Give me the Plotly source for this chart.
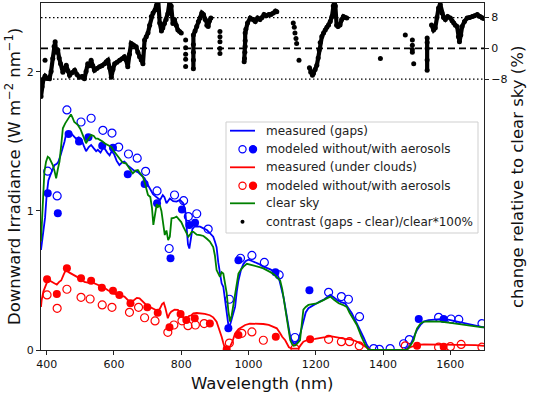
import plotly.graph_objects as go

# ---------------- data ----------------
gaps_nm = [383, 390, 395, 400, 405, 411, 417, 423, 430, 435, 441, 448, 453, 457, 465, 472, 480, 487, 495, 502,
           510, 517, 525, 532, 540, 547, 552, 560, 567, 572, 580, 587, 593, 600, 608, 616, 624, 631, 640, 651,
           660, 671, 680, 691, 700, 706, 716, 726, 737, 745, 750, 756, 766, 776, 786, 796, 806, 812, 816, 820,
           824, 828, 833, 840, 848, 856, 866, 876, 885, 895, 900, 905, 910, 915, 920, 925, 930, 935, 940, 945,
           950, 955, 960, 965, 970, 978, 985, 992, 1000, 1010, 1020, 1030, 1044, 1055, 1065, 1075, 1084, 1090,
           1094, 1100, 1104, 1109, 1115, 1120, 1124, 1130, 1134, 1140, 1148, 1155, 1163, 1170, 1178, 1190, 1203,
           1213, 1223, 1233, 1243, 1253, 1263, 1275, 1287, 1297, 1307, 1320, 1332, 1342, 1352, 1362, 1380, 1400,
           1420, 1440, 1461, 1471, 1481, 1491, 1501, 1511, 1521, 1535, 1550, 1570, 1590, 1610, 1630, 1650, 1670,
           1690, 1700]
gaps_val = [0.72, 0.85, 0.95, 1.12, 1.22, 1.26, 1.30, 1.33, 1.34, 1.355, 1.40, 1.45, 1.50, 1.547, 1.56, 1.56, 1.54,
            1.52, 1.53, 1.52, 1.47, 1.43, 1.46, 1.475, 1.45, 1.43, 1.44, 1.42, 1.45, 1.45, 1.42, 1.40, 1.43, 1.41,
            1.36, 1.33, 1.35, 1.355, 1.33, 1.31, 1.29, 1.28, 1.26, 1.235, 1.19, 1.16, 1.12, 1.10, 1.08, 1.115, 1.10,
            1.055, 1.09, 1.07, 1.067, 1.08, 1.055, 1.0, 0.887, 0.76, 0.73, 0.80, 0.87, 0.89, 0.89, 0.887, 0.875,
            0.863, 0.84, 0.815, 0.78, 0.74, 0.63, 0.54, 0.48, 0.455, 0.35, 0.25, 0.18, 0.18, 0.22, 0.27, 0.31, 0.42,
            0.50, 0.58, 0.62, 0.64, 0.65, 0.64, 0.63, 0.62, 0.60, 0.59, 0.58, 0.565, 0.55, 0.52, 0.48, 0.43, 0.38,
            0.31, 0.22, 0.14, 0.096, 0.06, 0.05, 0.05, 0.07, 0.13, 0.216, 0.27, 0.30, 0.32, 0.336, 0.35, 0.36, 0.38,
            0.396, 0.38, 0.36, 0.345, 0.336, 0.30, 0.264, 0.20, 0.144, 0.09, 0.036, 0.0, 0.0, 0.0, 0.0, 0.0, 0.0,
            0.015, 0.036, 0.09, 0.144, 0.18, 0.204, 0.215, 0.22, 0.222, 0.22, 0.21, 0.20, 0.19, 0.18, 0.167, 0.163]

clear_nm = [383, 388, 393, 398, 403, 408, 413, 418, 423, 428, 433, 438, 443, 448, 455, 462, 467, 472, 477, 482,
            487, 492, 500, 507, 512, 517, 524, 532, 540, 546, 552, 560, 566, 572, 580, 586, 592, 600, 606, 611,
            618, 625, 630, 636, 645, 650, 656, 664, 671, 678, 686, 692, 697, 701, 708, 713, 717, 722, 727, 731,
            736, 741, 745, 751, 756, 761, 766, 771, 778, 786, 793, 800, 806, 812, 816, 821, 826, 831, 836, 846,
            856, 866, 876, 885, 895, 900, 905, 910, 915, 920, 925, 930, 935, 940, 945, 950, 955, 960, 965, 970,
            978, 985, 995, 1005, 1015, 1025, 1035, 1044, 1055, 1065, 1075, 1084, 1089, 1094, 1100, 1105, 1110,
            1115, 1120, 1124, 1130, 1134, 1140, 1147, 1153, 1158, 1163, 1170, 1178, 1190, 1203, 1215, 1230, 1243,
            1255, 1268, 1280, 1292, 1300, 1310, 1322, 1335, 1347, 1357, 1400, 1440, 1471, 1481, 1491, 1496, 1501,
            1511, 1521, 1540, 1570, 1600, 1620, 1640, 1660, 1680, 1700]
clear_val = [0.78, 1.05, 1.28, 1.355, 1.39, 1.38, 1.36, 1.33, 1.29, 1.235, 1.30, 1.355, 1.47, 1.595, 1.63, 1.655,
             1.68, 1.695, 1.67, 1.64, 1.63, 1.62, 1.59, 1.547, 1.51, 1.487, 1.52, 1.547, 1.54, 1.52, 1.52, 1.51,
             1.50, 1.487, 1.475, 1.465, 1.46, 1.43, 1.41, 1.39, 1.37, 1.35, 1.345, 1.343, 1.31, 1.29, 1.27, 1.29,
             1.295, 1.27, 1.247, 1.20, 1.15, 1.115, 1.10, 1.02, 0.90, 0.98, 1.05, 1.03, 1.043, 1.0, 0.92, 0.827,
             0.86, 0.79, 0.815, 0.947, 0.95, 0.96, 0.94, 0.92, 0.887, 0.86, 0.84, 0.815, 0.83, 0.85, 0.85, 0.83,
             0.827, 0.82, 0.80, 0.78, 0.74, 0.68, 0.575, 0.55, 0.527, 0.56, 0.55, 0.48, 0.41, 0.28, 0.204, 0.25,
             0.33, 0.42, 0.50, 0.55, 0.58, 0.60, 0.62, 0.615, 0.61, 0.60, 0.595, 0.587, 0.575, 0.56, 0.545, 0.525,
             0.516, 0.50, 0.44, 0.36, 0.27, 0.18, 0.11, 0.07, 0.04, 0.03, 0.035, 0.05, 0.07, 0.18, 0.29, 0.31,
             0.324, 0.33, 0.336, 0.35, 0.37, 0.384, 0.36, 0.336, 0.325, 0.31, 0.27, 0.23, 0.18, 0.10, 0.036, 0.0,
             0.0, 0.0, 0.0, 0.03, 0.07, 0.12, 0.156, 0.19, 0.204, 0.205, 0.204, 0.195, 0.187, 0.18, 0.175, 0.168,
             0.163]

clouds_nm = [383, 385, 390, 398, 403, 408, 415, 423, 430, 437, 443, 450, 457, 465, 472, 480, 492, 502, 512, 522,
             532, 545, 557, 570, 582, 596, 611, 621, 631, 641, 651, 660, 668, 676, 686, 696, 706, 716, 723, 730,
             737, 743, 748, 753, 757, 760, 765, 770, 780, 790, 800, 810, 816, 823, 830, 836, 846, 856, 870, 885,
             895, 905, 912, 920, 925, 930, 937, 945, 952, 960, 970, 980, 990, 1004, 1020, 1035, 1044, 1060, 1075,
             1084, 1094, 1100, 1109, 1114, 1120, 1129, 1140, 1148, 1155, 1163, 1173, 1183, 1198, 1213, 1228, 1243,
             1258, 1273, 1288, 1303, 1318, 1332, 1342, 1352, 1362, 1400, 1440, 1466, 1481, 1491, 1501, 1521, 1541,
             1570, 1600, 1630, 1650, 1675, 1700]
clouds_val = [0.31, 0.36, 0.42, 0.48, 0.50, 0.50, 0.49, 0.48, 0.47, 0.49, 0.50, 0.54, 0.576, 0.56, 0.55, 0.54, 0.527,
              0.51, 0.49, 0.485, 0.49, 0.475, 0.467, 0.45, 0.43, 0.41, 0.396, 0.39, 0.384, 0.36, 0.347, 0.36, 0.375,
              0.372, 0.345, 0.324, 0.31, 0.30, 0.29, 0.276, 0.30, 0.33, 0.34, 0.30, 0.25, 0.228, 0.26, 0.276, 0.29,
              0.288, 0.26, 0.216, 0.22, 0.245, 0.25, 0.264, 0.266, 0.264, 0.26, 0.25, 0.235, 0.204, 0.16, 0.096,
              0.05, 0.01, 0.015, 0.024, 0.06, 0.12, 0.15, 0.168, 0.18, 0.19, 0.19, 0.19, 0.187, 0.18, 0.168, 0.156,
              0.12, 0.095, 0.07, 0.05, 0.02, 0.01, 0.008, 0.01, 0.035, 0.06, 0.07, 0.077, 0.08, 0.084, 0.092, 0.10,
              0.092, 0.084, 0.08, 0.077, 0.065, 0.048, 0.03, 0.012, 0.0, 0.0, 0.0, 0.0, 0.02, 0.03, 0.036, 0.04,
              0.04, 0.038, 0.036, 0.038, 0.04, 0.035, 0.03]

gaps_noaer_nm = [403, 431, 460, 502, 532, 567, 594, 614, 643, 669, 694, 728, 764, 780, 807, 821, 846, 880, 943, 976,
                 1010, 1047, 1091, 1138, 1238, 1276, 1297, 1330, 1372, 1389, 1421, 1461, 1478, 1565, 1602, 1625, 1694]
gaps_noaer_val = [1.286, 1.108, 1.727, 1.64, 1.667, 1.58, 1.56, 1.46, 1.41, 1.38, 1.285, 1.144, 0.73, 1.115, 1.074,
                  0.96, 0.98, 0.87, 0.365, 0.66, 0.68, 0.63, 0.54, 0.09, 0.415, 0.384, 0.365, 0.24, 0.01, 0.005, 0.01,
                  0.045, 0.075, 0.235, 0.223, 0.22, 0.19]

gaps_aer_nm = [403, 433, 465, 496, 524, 565, 597, 641, 691, 728, 768, 802, 824, 841, 940, 970, 1080, 1181, 1506, 1580]
gaps_aer_val = [1.127, 0.983, 1.554, 1.50, 1.53, 1.47, 1.455, 1.264, 1.194, 1.055, 0.66, 1.01, 0.90, 0.916, 0.156,
                0.645, 0.56, 0.43, 0.223, 0.223]

clouds_noaer_nm = [401, 431, 460, 502, 529, 565, 594, 646, 673, 691, 722, 760, 778, 802, 820, 842, 868, 943, 980, 1010,
                   1044, 1138, 1238, 1276, 1300, 1329, 1466, 1565, 1600, 1632, 1694]
clouds_noaer_val = [0.396, 0.30, 0.437, 0.379, 0.367, 0.324, 0.307, 0.271, 0.307, 0.232, 0.209, 0.127, 0.18, 0.21,
                    0.175, 0.18, 0.19, 0.05, 0.12, 0.13, 0.07, 0.01, 0.077, 0.06, 0.06, 0.03, 0.03, 0.02, 0.024, 0.04,
                    0.02]

clouds_aer_nm = [401, 430, 460, 502, 532, 564, 597, 616, 649, 699, 730, 765, 798, 815, 840, 885, 935, 970, 1081, 1183,
                 1501, 1580]
clouds_aer_val = [0.509, 0.403, 0.588, 0.516, 0.499, 0.448, 0.427, 0.396, 0.336, 0.307, 0.268, 0.163, 0.259, 0.216,
                  0.228, 0.19, 0.005, 0.108, 0.096, 0.077, 0.03, 0.024]

# contrast (gaps - clear)/clear*100 ; None separates continuous stretches from isolated dots
contrast_nm = [383, 386, 390, 395, 401, 408, 413, 418, 422, 425, 428, 433, 437, 441, 448, 452, 458, 463, 468, 475,
               483, 490, 497, 505, 512, 517, 522, 527, 532, 537, 542, 549, 557, 564, 572, 577, 582, 587, 592, 597,
               602, 609, 617, 624, 631, 636, 641, 646, 651, 658, 666, 671, 676, 681, 686, 691, 696, 701, 706, 711,
               716, 722, 726, 731, 736, 741, 745, 750, 755, 760, 765, 770, 775, 780, 785, 790, 795, 800, None,
               395, None, 813, None, 813, None, 813, None, 813, None, 813, None,
               836, 836, 836, 836, 836, 841, 846, 851, 856, 861, 866, 871, 876, 880, 884, 888, None,
               915, None, 915, None, 915, None, 915, None, 915, None,
               987, 988, 989, 990, 990, 990, 992, 997, 1005, 1014, 1020, 1027, 1034, 1040, 1046, 1053, 1060, 1067,
               1074, 1080, 1084, None,
               1133, None, 1136, None, 1138, None, 1141, None, 1143, None, 1150, None,
               1181, 1185, 1190, 1193, 1198, 1203, 1207, 1210, 1213, 1218, 1223, 1228, 1233, 1238, 1243, 1248, 1252,
               1255, 1258, 1262, 1266, 1272, 1277, 1282, 1287, 1292, None,
               1392, None, 1466, None, 1487, None, 1487, None, 1487, None, 1487, None, 1491, None,
               1531, 1531, 1531, 1531, 1531, None,
               1544, 1550, 1555, 1560, 1565, 1570, 1575, 1580, 1585, 1592, 1600, 1605, 1610, 1615, 1620, 1624, 1627,
               1631, 1635, 1642, 1650, 1657, 1665, 1672, 1680, 1688, 1695, 1700]
contrast_pct = [-12.5, -10, -8, -7.2, -7.8, -7.9, -6, -2.6, 0.5, 1.7, -1, -0.4, -2.5, -4.0, -6.2, -5.5, -4.4, -5.8,
                -7.0, -6.3, -5.7, -6.8, -7.5, -7.3, -7.9, -6, -4.0, -4.5, -3.1, -4.5, -5.7, -5.2, -4.8, -4.5, -4.0,
                -3.5, -3.1, -5, -7.5, -5.5, -4.0, -3.6, -3.1, -2.7, -2.2, -3, -4.8, -1.5, 1.3, 0.9, 0.4, -1, -2.2,
                -3, -4.0, 2.2, 3, 4.0, 6, 8.3, 9.2, 10, 11, 13, 6.6, 4.5, 5.3, 6.5, 7.5, 9, 12, 11, 6.5, 7.5, 6, 4.8,
                4.4, 4.0, None,
                -3.1, None, 2.2, None, 0.2, None, -1.5, None, -2.8, None, -4.7, None,
                -5.3, -3, -1, 1, 3.5, 4.5, 5.7, 7, 7.9, 9.2, 8.8, 7.5, 6, 5.7, 7.2, 7.9, None,
                4.4, None, 3.0, None, 1.7, None, 0, None, -1.3, None,
                -3.5, -2.6, -1, 0.5, 2, 4, 5, 6.6, 7.9, 7.5, 7, 7.9, 7.5, 8, 8.8, 8.5, 8.8, 8.8, 9.2, 9.7, 9.5, None,
                6.6, None, 5.5, None, 4.0, None, 2.6, None, 1.3, None, -3.1, None,
                -5.0, -6.2, -7.0, -6.5, -5.5, -4.4, -2.5, -0.4, 1.5, 3.1, 4, 4.8, 5.5, 6.1, 7, 8.3, 11, 12.5, 11, 6,
                5.7, 6.1, 7.5, 8.3, 8, 7.9, None,
                -2.6, None, 3.5, None, 2.2, None, 0.8, None, -0.3, None, -1.0, None, -4.0, None,
                -5.7, -3, 0, 1.5, 2.7, None,
                6.1, 4.8, 5.3, 8, 10.5, 11.4, 9.2, 8, 7.5, 8.3, 7.9, 7.2, 6.6, 6, 5.7, 3, 1.7, 3.5, 5.7, 7, 7.9, 8, 8.3,
                8.5, 8.8, 8.3, 7.9, 7.8]

x_ticks = [400, 600, 800, 1000, 1200, 1400, 1600]
y_ticks = [0, 1, 2]
y2_ticks = [-8, 0, 8]
y2_ticktext = ["\u22128", "0", "8"]
ref_levels = [-8, 0, 8]
legend_labels = ["measured (gaps)", "modeled without/with aerosols", "measured (under clouds)",
                 "modeled without/with aerosols", "clear sky", "contrast (gaps - clear)/clear*100%"]
x_title = "Wavelength (nm)"
y_title = "Downward Irradiance (W m<sup>\u22122</sup> nm<sup>\u22121</sup>)"
y2_title = "change relative to clear sky (%)"

# ---------------- figure ----------------
W, H = 533, 395
L, R, T, B = 41, 484, 3, 350
FONT = "DejaVu Sans"
BLUE, RED, GREEN = "#0000ff", "#ff0000", "#008000"
TXT = "#111111"

fig = go.Figure()
fig.add_trace(go.Scatter(x=gaps_nm, y=gaps_val, mode="lines", line=dict(color=BLUE, width=1.8)))
fig.add_trace(go.Scatter(x=gaps_noaer_nm, y=gaps_noaer_val, mode="markers",
                         marker=dict(symbol="circle-open", size=8, color=BLUE, line=dict(width=1.2))))
fig.add_trace(go.Scatter(x=gaps_aer_nm, y=gaps_aer_val, mode="markers",
                         marker=dict(symbol="circle", size=8, color=BLUE)))
fig.add_trace(go.Scatter(x=clouds_nm, y=clouds_val, mode="lines", line=dict(color=RED, width=1.8)))
fig.add_trace(go.Scatter(x=clouds_noaer_nm, y=clouds_noaer_val, mode="markers",
                         marker=dict(symbol="circle-open", size=8, color=RED, line=dict(width=1.2))))
fig.add_trace(go.Scatter(x=clouds_aer_nm, y=clouds_aer_val, mode="markers",
                         marker=dict(symbol="circle", size=8, color=RED)))
fig.add_trace(go.Scatter(x=clear_nm, y=clear_val, mode="lines", line=dict(color=GREEN, width=1.8)))
fig.add_trace(go.Scatter(x=contrast_nm, y=contrast_pct, yaxis="y2", mode="lines+markers", connectgaps=False,
                         line=dict(color="black", width=4.2), marker=dict(size=5, color="black")))

axis_common = dict(showline=True, linecolor="#222", linewidth=1.2, ticks="outside", ticklen=4, tickwidth=1,
                   tickcolor="#222", showgrid=False, zeroline=False,
                   tickfont=dict(family=FONT, size=11, color=TXT))
fig.update_layout(
    width=W, height=H, showlegend=False,
    margin=dict(l=L, r=W - R, t=T, b=H - B, autoexpand=False),
    paper_bgcolor="white", plot_bgcolor="white",
    xaxis=dict(range=[383, 1700], tickvals=x_ticks, mirror=True, **axis_common),
    yaxis=dict(range=[0, 2.496], tickvals=y_ticks, mirror=True, **axis_common),
    yaxis2=dict(range=[-78.4, 11.8], overlaying="y", side="right", tickvals=y2_ticks, ticktext=y2_ticktext,
                **axis_common),
)


def px(x):
    return (x - L) / (R - L)


def py(y):
    return (B - y) / (B - T)


# axis titles placed at the reference positions
fig.add_annotation(xref="paper", yref="paper", x=px(262), y=py(383), text=x_title, showarrow=False,
                   xanchor="center", yanchor="middle", font=dict(family=FONT, size=16.5, color=TXT))
fig.add_annotation(xref="paper", yref="paper", x=px(13), y=py(177), text=y_title, showarrow=False, textangle=-90,
                   xanchor="center", yanchor="middle", font=dict(family=FONT, size=16.5, color=TXT))
fig.add_annotation(xref="paper", yref="paper", x=px(517), y=py(177), text=y2_title, showarrow=False, textangle=-90,
                   xanchor="center", yanchor="middle", font=dict(family=FONT, size=16.5, color=TXT))

# reference lines on the contrast axis
for lv in ref_levels:
    fig.add_shape(type="line", xref="paper", x0=0, x1=1, yref="y2", y0=lv, y1=lv,
                  line=dict(color="black", width=1.6 if lv == 0 else 1.4,
                            dash="7px,4px" if lv == 0 else "1.5px,2.5px"), layer="below")

# ---------------- manual legend (pixel layout -> paper coordinates) ----------------
fig.add_shape(type="rect", xref="paper", yref="paper", x0=px(226), x1=px(478), y0=py(233), y1=py(122),
              line=dict(color="#cfcfcf", width=1), fillcolor="rgba(255,255,255,0.85)")
rows = [130.7, 149.3, 167.3, 185.7, 203.3, 221.7]
handles = [("line", BLUE), ("pair", BLUE), ("line", RED), ("pair", RED), ("line", GREEN), ("dot", "black")]
for yrow, (kind, col), lab in zip(rows, handles, legend_labels):
    if kind == "line":
        fig.add_shape(type="line", xref="paper", yref="paper", x0=px(230), x1=px(255), y0=py(yrow), y1=py(yrow),
                      line=dict(color=col, width=1.8))
    elif kind == "pair":
        for cx, filled in ((242.5, False), (253.0, True)):
            fig.add_shape(type="circle", xref="paper", yref="paper", xsizemode="pixel", ysizemode="pixel",
                          xanchor=px(cx), yanchor=py(yrow), x0=-3.6, x1=3.6, y0=-3.6, y1=3.6,
                          line=dict(color=col, width=1.2), fillcolor=col if filled else "white")
    else:
        fig.add_shape(type="circle", xref="paper", yref="paper", xsizemode="pixel", ysizemode="pixel",
                      xanchor=px(242.5), yanchor=py(yrow), x0=-2, x1=2, y0=-2, y1=2,
                      line=dict(color=col, width=0), fillcolor=col)
    fig.add_annotation(xref="paper", yref="paper", x=px(264), y=py(yrow), text=lab, showarrow=False,
                       xanchor="left", yanchor="middle", font=dict(family=FONT, size=12, color="#222"))

fig.write_html("out.html", config={"displayModeBar": False},
               post_script="document.body.style.margin='0';document.body.style.padding='0';")
